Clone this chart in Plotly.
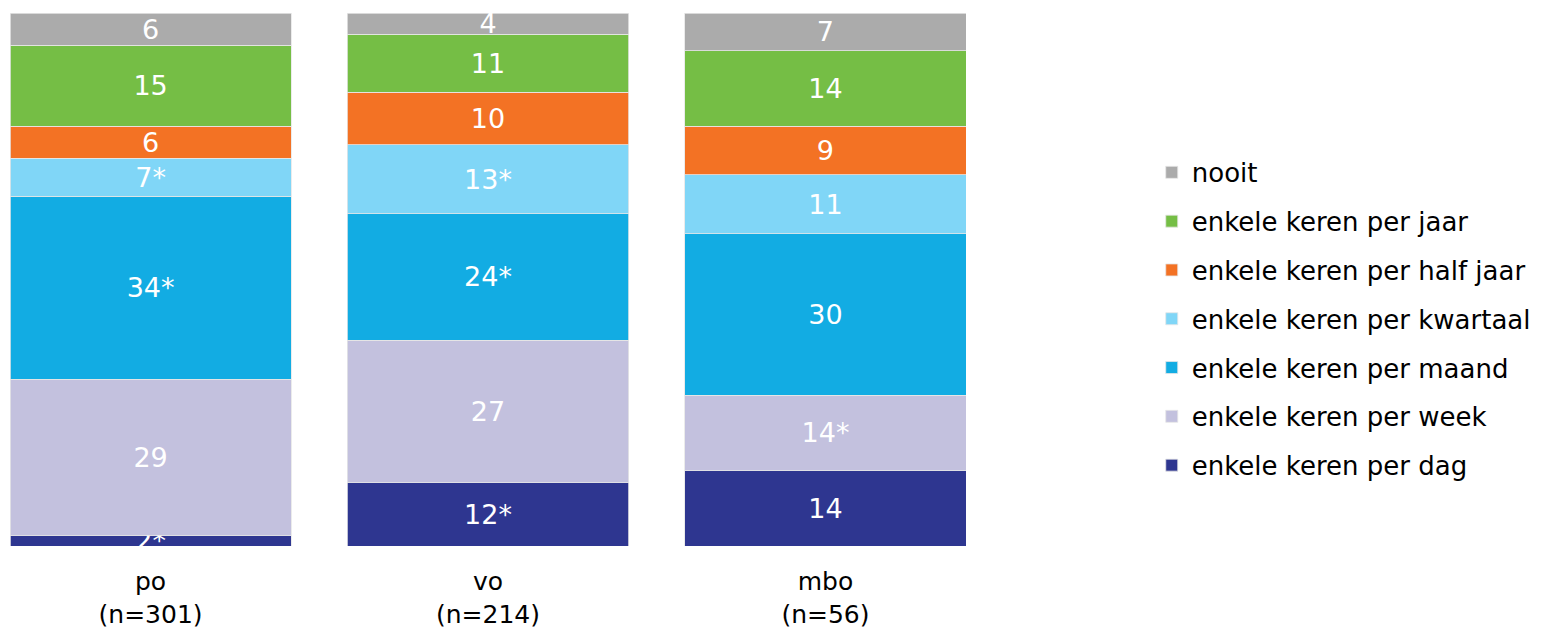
import plotly.graph_objects as go

categories = ["po<br>(n=301)", "vo<br>(n=214)", "mbo<br>(n=56)"]
series = [
    "enkele keren per dag",
    "enkele keren per week",
    "enkele keren per maand",
    "enkele keren per kwartaal",
    "enkele keren per half jaar",
    "enkele keren per jaar",
    "nooit",
]
values = {
    "enkele keren per dag": [2, 12, 14],
    "enkele keren per week": [29, 27, 14],
    "enkele keren per maand": [34, 24, 30],
    "enkele keren per kwartaal": [7, 13, 11],
    "enkele keren per half jaar": [6, 10, 9],
    "enkele keren per jaar": [15, 11, 14],
    "nooit": [6, 4, 7],
}
labels = {
    "enkele keren per dag": ["2*", "12*", "14"],
    "enkele keren per week": ["29", "27", "14*"],
    "enkele keren per maand": ["34*", "24*", "30"],
    "enkele keren per kwartaal": ["7*", "13*", "11"],
    "enkele keren per half jaar": ["6", "10", "9"],
    "enkele keren per jaar": ["15", "11", "14"],
    "nooit": ["6", "4", "7"],
}
colors = {
    "enkele keren per dag": "#2E3690",
    "enkele keren per week": "#C3C1DE",
    "enkele keren per maand": "#12ACE3",
    "enkele keren per kwartaal": "#80D6F7",
    "enkele keren per half jaar": "#F37224",
    "enkele keren per jaar": "#75BE45",
    "nooit": "#ABABAB",
}

label_font = "DejaVu Sans, sans-serif"

fig = go.Figure()
n = len(series)
for i, s in enumerate(series):
    fig.add_trace(go.Bar(
        name=s,
        x=categories,
        y=values[s],
        text=labels[s],
        texttemplate="%{text}",
        textposition="inside",
        insidetextanchor="middle",
        textangle=0,
        textfont=dict(color="white", size=27, family=label_font),
        marker=dict(color=colors[s], line=dict(color="#E6E6E6", width=0.8)),
        width=0.833,
        legendgroup=s,
        legendrank=n - i,
        cliponaxis=True,
    ))

# page body has an 8px margin, so the figure is sized/offset to compensate
fig.update_layout(
    barmode="stack",
    barnorm="percent",
    width=1536,
    height=620,
    margin=dict(l=2, r=578, t=5, b=82, autoexpand=False),
    paper_bgcolor="white",
    plot_bgcolor="white",
    uniformtext=dict(minsize=27, mode="show"),
    showlegend=True,
    legend=dict(
        x=1.1943, xanchor="left",
        y=0.426, yanchor="middle",
        traceorder="grouped",
        tracegroupgap=12,
        font=dict(family="DejaVu Sans, Verdana, sans-serif", size=26, color="#000000"),
        itemwidth=30,
        bgcolor="rgba(0,0,0,0)",
    ),
    xaxis=dict(
        range=[-0.4165, 2.4165],
        automargin=False,
        showgrid=False, zeroline=False, showline=False,
        ticks="", ticklabelstandoff=18,
        tickfont=dict(family=label_font, size=25, color="#000000"),
    ),
    yaxis=dict(range=[0, 100], visible=False, showgrid=False, zeroline=False, automargin=False),
)

fig.write_html("out.html")
